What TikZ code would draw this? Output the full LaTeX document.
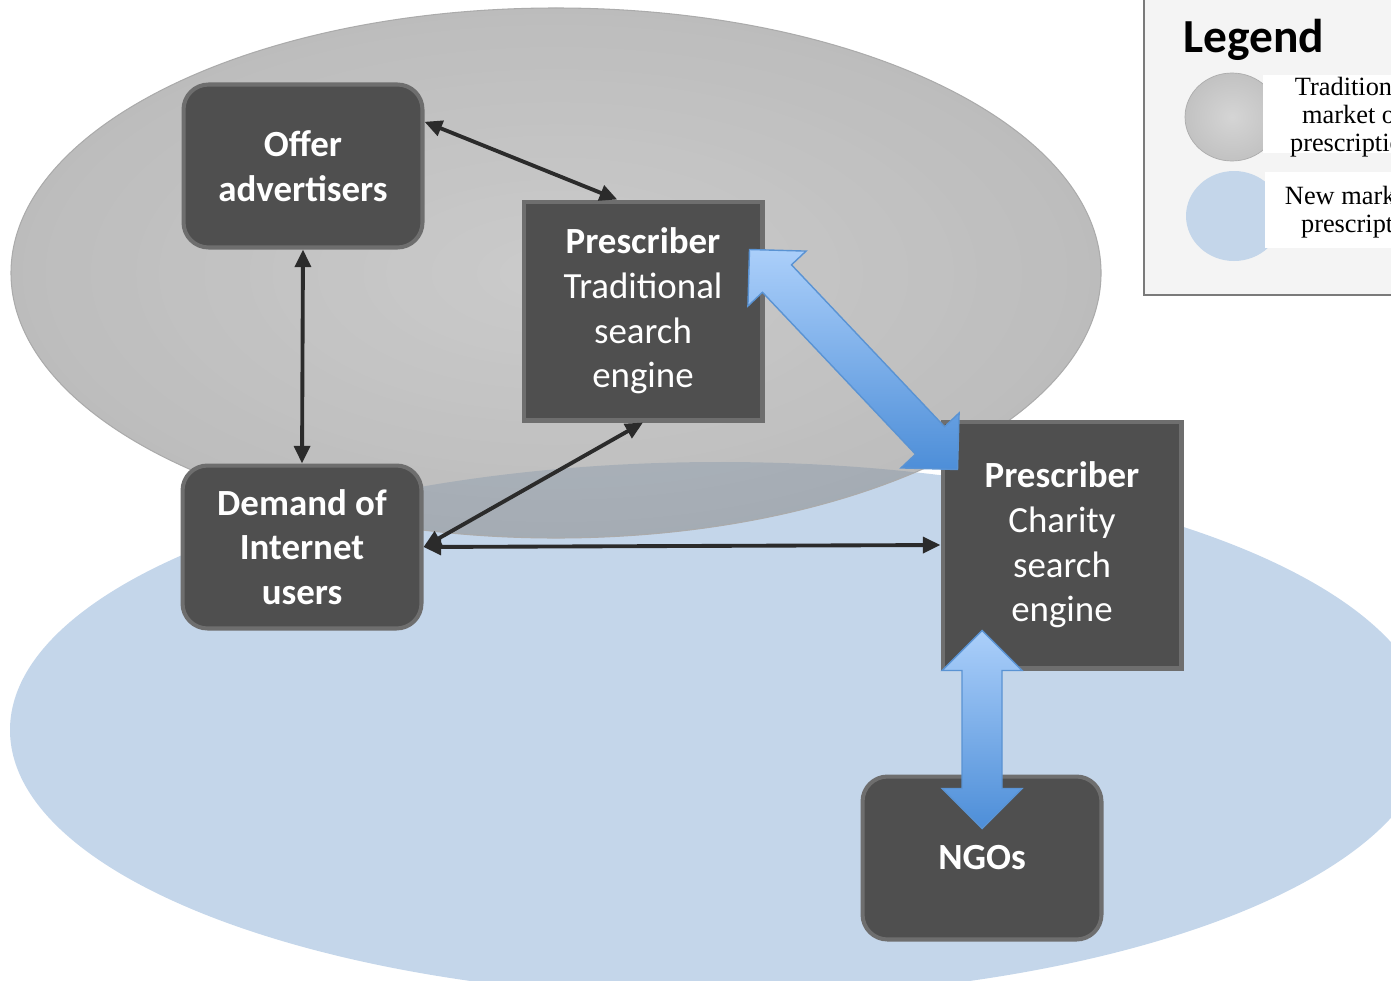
\documentclass[tikz,border=0pt]{standalone}
\usepackage{fontspec}
\setmainfont{Carlito}
\newfontfamily\legendfont{Liberation Serif}
\usepackage{xcolor}
\usetikzlibrary{arrows.meta,calc}

\definecolor{boxfill}{HTML}{4F4F4F}
\definecolor{boxline}{HTML}{6E6E6E}
\definecolor{newmarket}{HTML}{C4D6EA}
\definecolor{oldinner}{HTML}{A8A8A8}
\definecolor{oldouter}{HTML}{909090}
\definecolor{oldline}{HTML}{ABABAB}
\definecolor{legendfill}{HTML}{F4F4F4}
\definecolor{legendline}{HTML}{7A7A7A}
\definecolor{arrowlight}{HTML}{ABCFFA}
\definecolor{arrowdark}{HTML}{4D8ED8}
\definecolor{arrowedge}{HTML}{5A93D3}
\definecolor{linkcol}{HTML}{2B2B2B}

\tikzset{
  actor/.style={draw=boxline, fill=boxfill, line width=2.3pt, text=white,
    align=center, rounded corners=0.5cm, minimum width=4.78cm,
    minimum height=3.26cm, font=\fontsize{21}{25.5}\selectfont\bfseries},
  prescriber/.style={draw=boxline, fill=boxfill, line width=2.3pt, text=white,
    align=center, minimum width=4.78cm, font=\fontsize{21}{25.5}\selectfont},
  link/.style={draw=linkcol, line width=2.2pt,
    {Triangle[length=10pt,width=9pt]}-{Triangle[length=10pt,width=9pt]}},
  blockarrow/.style={top color=arrowlight, bottom color=arrowdark,
    draw=arrowedge, line width=0.8pt},
  legendtext/.style={align=center, font=\legendfont\fontsize{15}{16}\selectfont}
}

\begin{document}
\begin{tikzpicture}[x=0.02cm,y=-0.02cm]
\useasboundingbox (0,0) rectangle (1391,980);
\clip (0,0) rectangle (1391,980);

\fill[newmarket] (720,730) ellipse [x radius=710, y radius=268];
\shade[inner color=oldinner, outer color=oldouter, opacity=0.6]
  (556,273) ellipse [x radius=545, y radius=265];
\draw[oldline, line width=0.6pt] (556,273) ellipse [x radius=545, y radius=265];

\draw[draw=legendline, fill=legendfill, line width=1.2pt] (1144,-10) rectangle (1420,295);
\node[anchor=west, font=\fontsize{27}{30}\selectfont\bfseries] (legendtitle) at (1177,40) {Legend};
\shade[inner color=gray!33, outer color=gray!48, draw=gray!65] (1232,117) ellipse [x radius=47, y radius=44];
\fill[white] (1263,75) rectangle (1400,153);
\node[legendtext] (oldlabel) at (1353,117) {Traditional\\market of\\prescription};
\fill[newmarket] (1234,216) ellipse [x radius=48, y radius=45];
\fill[white] (1265,172) rectangle (1400,248);
\node[legendtext] (newlabel) at (1364,212) {New market of\\prescription};

\node[actor] (offer) at (303,166) {Offer\\advertisers};
\node[prescriber, minimum height=4.38cm] (trad) at (643,311) {\textbf{Prescriber}\\Traditional\\search\\engine};
\node[actor] (demand) at (302,547) {Demand of\\Internet\\users};
\node[prescriber, minimum height=4.94cm] (charity) at (1062,545) {\textbf{Prescriber}\\Charity\\search\\engine};
\node[actor] (ngo) at (982,858) {NGOs};

\foreach \a/\b in {offer.20/trad.103, offer.south/demand.north,
                   demand.east/trad.south, demand.east/charity.west}
  \draw[link] (\a) -- (\b);

\coordinate (d1) at ($(trad.north east)+(-15,50)$);
\coordinate (d2) at ($(charity.north west)+(17,50)$);
\coordinate (v1) at ($(ngo.north)+(0,-144)$);
\coordinate (v2) at ($(ngo.north)+(0,54)$);

\foreach \a/\b in {d1/d2, v1/v2}
  \shadedraw[blockarrow] (\a)
    -- ($(\a)!0.8cm!(\b)!0.8cm!90:(\b)$) -- ($(\a)!0.8cm!(\b)!0.4cm!90:(\b)$)
    -- ($(\b)!0.8cm!(\a)!0.4cm!-90:(\a)$) -- ($(\b)!0.8cm!(\a)!0.8cm!-90:(\a)$)
    -- (\b)
    -- ($(\b)!0.8cm!(\a)!0.8cm!90:(\a)$) -- ($(\b)!0.8cm!(\a)!0.4cm!90:(\a)$)
    -- ($(\a)!0.8cm!(\b)!0.4cm!-90:(\b)$) -- ($(\a)!0.8cm!(\b)!0.8cm!-90:(\b)$)
    -- cycle;
\end{tikzpicture}
\end{document}
